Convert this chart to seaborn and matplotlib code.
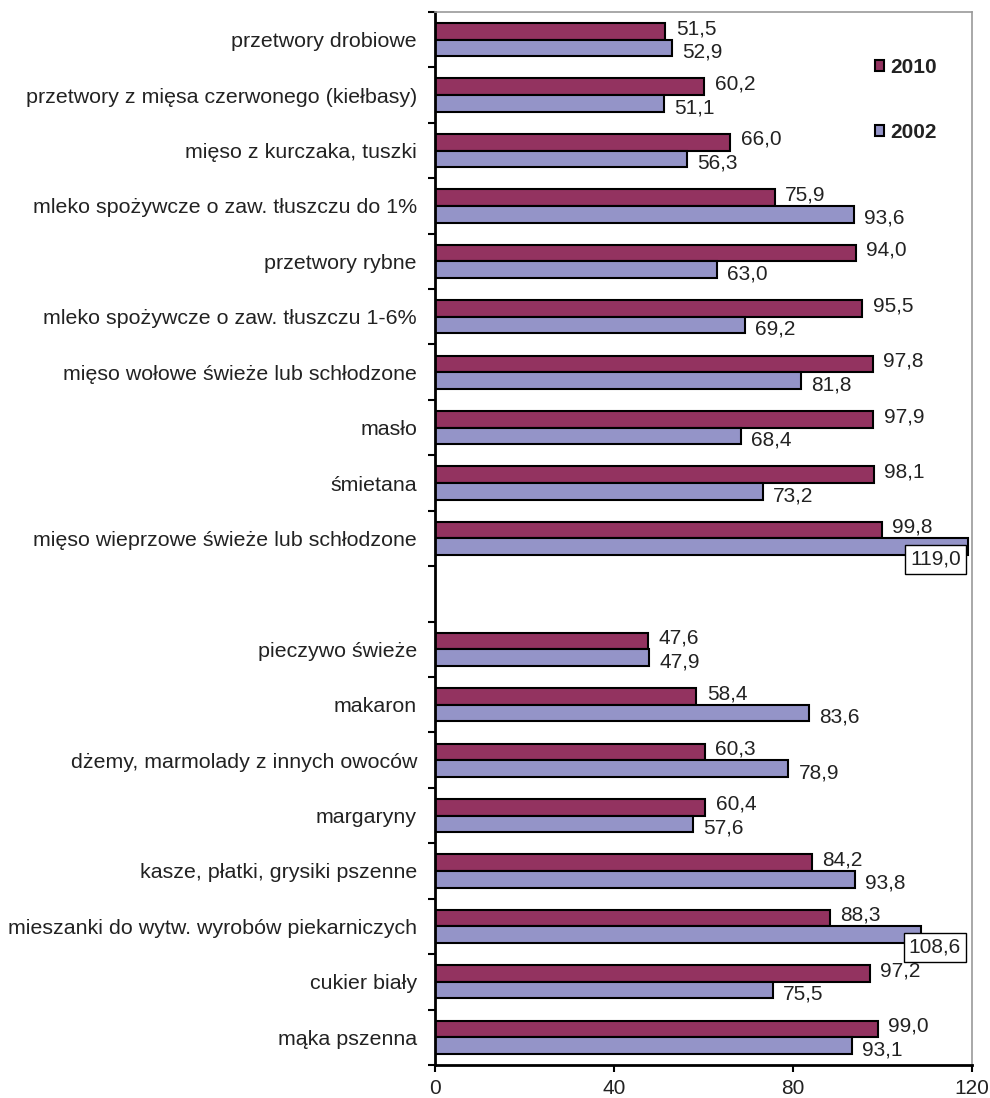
import matplotlib
matplotlib.use("Agg")
import matplotlib.pyplot as plt
import matplotlib.transforms as mtransforms
from matplotlib.patches import Patch
import seaborn as sns
import pandas as pd
import numpy as np

categories = [
    "przetwory drobiowe",
    "przetwory z mięsa czerwonego (kiełbasy)",
    "mięso z kurczaka, tuszki",
    "mleko spożywcze o zaw. tłuszczu do 1%",
    "przetwory rybne",
    "mleko spożywcze o zaw. tłuszczu 1-6%",
    "mięso wołowe świeże lub schłodzone",
    "masło",
    "śmietana",
    "mięso wieprzowe świeże lub schłodzone",
    " ",
    "pieczywo świeże",
    "makaron",
    "dżemy, marmolady z innych owoców",
    "margaryny",
    "kasze, płatki, grysiki pszenne",
    "mieszanki do wytw. wyrobów piekarniczych",
    "cukier biały",
    "mąka pszenna",
]
values_2010 = [51.5, 60.2, 66.0, 75.9, 94.0, 95.5, 97.8, 97.9, 98.1, 99.8,
               None, 47.6, 58.4, 60.3, 60.4, 84.2, 88.3, 97.2, 99.0]
values_2002 = [52.9, 51.1, 56.3, 93.6, 63.0, 69.2, 81.8, 68.4, 73.2, 119.0,
               None, 47.9, 83.6, 78.9, 57.6, 93.8, 108.6, 75.5, 93.1]
series = ["2010", "2002"]
x_ticks = [0, 40, 80, 120]

colors = {"2010": "#933360", "2002": "#9494C8"}

rows = []
for c, a, b in zip(categories, values_2010, values_2002):
    if a is not None:
        rows.append({"cat": c, "year": "2010", "val": a})
    if b is not None:
        rows.append({"cat": c, "year": "2002", "val": b})
df = pd.DataFrame(rows)

sns.set_style("white")
plt.rcParams["font.family"] = ["Liberation Sans", "DejaVu Sans"]
plt.rcParams["font.size"] = 15

TXT = "#222222"
fig = plt.figure(figsize=(9.9, 10.98), dpi=100)
ax = fig.add_axes([0.4394, 0.0301, 0.9818 - 0.4394, 0.9891 - 0.0301])

sns.barplot(data=df, y="cat", x="val", hue="year", order=categories,
            hue_order=series, palette=colors, width=0.6, orient="h",
            edgecolor="black", linewidth=1.5, errorbar=None, ax=ax,
            legend=False, saturation=1)

ax.set_xlim(0, 120)
ax.set_ylim(len(categories) - 0.5, -0.5)
ax.set_xticks(x_ticks)
ax.set_xticklabels([str(t) for t in x_ticks], fontsize=15, color=TXT)
ax.set_xlabel("")
ax.set_ylabel("")

# y ticks: labels at centers, tick marks at boundaries
ax.set_yticks(range(len(categories)))
ax.set_yticklabels([c.strip() for c in categories], fontsize=15.4, color=TXT)
ax.tick_params(axis="y", which="major", length=0, pad=13)
ax.set_yticks(np.arange(-0.5, len(categories), 1.0), minor=True)
ax.tick_params(axis="y", which="minor", length=5, width=1.5, color="black", direction="out", left=True)
ax.tick_params(axis="x", which="major", length=5, width=1.5, color="black", direction="out", bottom=True, pad=5)

for s in ["left", "bottom"]:
    ax.spines[s].set_color("black")
    ax.spines[s].set_linewidth(2)
for s in ["top", "right"]:
    ax.spines[s].set_color("#999999")
    ax.spines[s].set_linewidth(1.2)
ax.grid(False)

# data labels
trans_right = mtransforms.blended_transform_factory(ax.transAxes, ax.transData)
for ci, year in enumerate(series):
    for p in ax.containers[ci]:
        w = p.get_width()
        if np.isnan(w):
            continue
        yc = p.get_y() + p.get_height() / 2
        txt = f"{w:.1f}".replace(".", ",")
        if w > 105:
            ax.annotate(txt, xy=(1.0, yc), xycoords=trans_right,
                        xytext=(-8, -9), textcoords="offset points",
                        ha="right", va="center", fontsize=15, color=TXT,
                        bbox=dict(boxstyle="square,pad=0.24", fc="white", ec="black", lw=1))
        else:
            dy = 2 if year == "2010" else -3
            ax.annotate(txt, xy=(w, yc), xytext=(7.5, dy), textcoords="offset points",
                        ha="left", va="center", fontsize=15, color=TXT)

handles = [Patch(facecolor=colors[s], edgecolor="black", linewidth=1.5) for s in series]
leg = ax.legend(handles, series, loc="upper left", bbox_to_anchor=(0.8, 0.966),
                frameon=False, handlelength=0.42, handleheight=0.42,
                handletextpad=0.3, labelspacing=2.2, borderpad=0,
                prop={"weight": "bold", "size": 15})
for t in leg.get_texts():
    t.set_color(TXT)

fig.savefig("out.png", dpi=100)
